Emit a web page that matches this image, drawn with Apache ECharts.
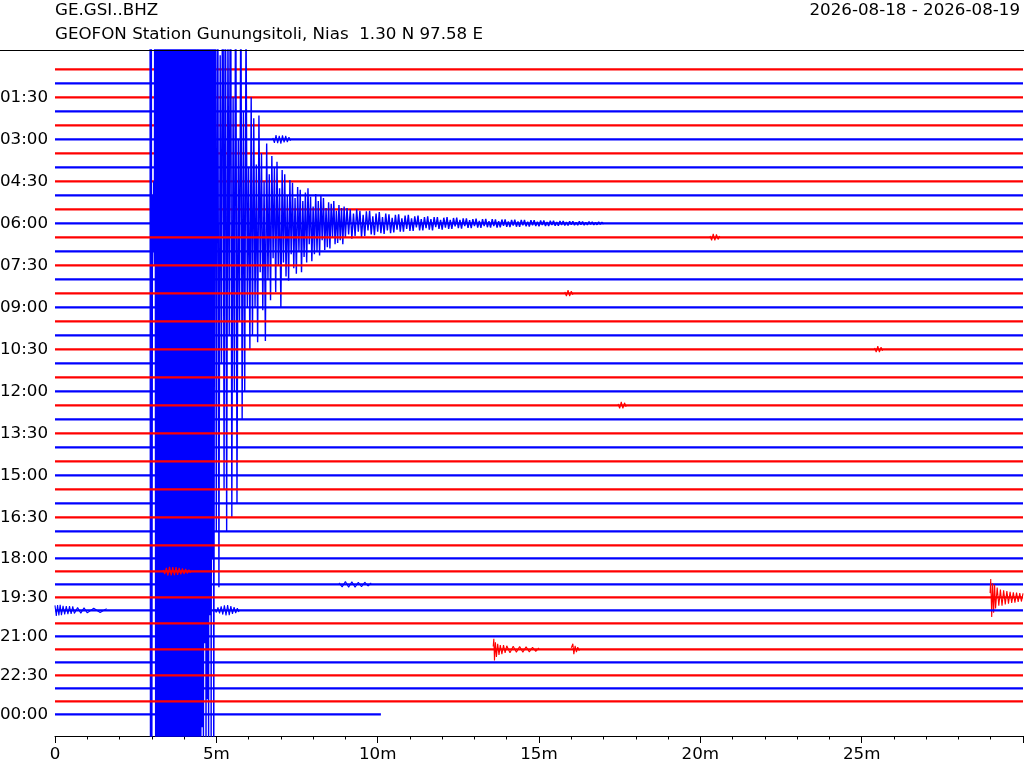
<!DOCTYPE html>
<html>
<head>
<meta charset="utf-8">
<script src="https://cdn.jsdelivr.net/npm/echarts@6/dist/echarts.min.js"></script>
<style>html,body{margin:0;padding:0;background:#fff}#c{width:1024px;height:768px}</style>
</head>
<body>
<div id="c"></div>
<script>
// ---------- texts ----------
const titleLeft = 'GE.GSI..BHZ';
const titleSub = 'GEOFON Station Gunungsitoli, Nias  1.30 N 97.58 E';
const titleRight = '2026-08-18 - 2026-08-19';

// ---------- rows / ticks ----------
const traceCount = 48;          // 30-minute lines
const traceMinutes = 30;
const lastTraceEnd = 10.1;      // data of the last line ends here (min)
const labelRows = [2, 5, 8, 11, 14, 17, 20, 23, 26, 29, 32, 35, 38, 41, 44, 47];
const labelTexts = ['01:30', '03:00', '04:30', '06:00', '07:30', '09:00', '10:30', '12:00',
  '13:30', '15:00', '16:30', '18:00', '19:30', '21:00', '22:30', '00:00'];
const xTicks = [0, 5, 10, 15, 20, 25];

// ---------- big earthquake (row 11); amplitudes in line spacings, + = up ----------
const quakeRow = 11;
const quakeStart = 2.94, quakeStep = 0.02;
const quakeMain = [
  40, -40, 40, -40, 2, -2, 3, -3, 40, -40,
  40, -40, 40, -40, 40, -40, 40, -40, 40, -40,
  40, -40, 40, -40, 40, -40, 40, -40, 40, -40,
  40, -40, 40, -40, 40, -40, 40, -40, 40, -40,
  40, -40, 40, -40, 40, -40, 40, -40, 40, -40,
  40, -40, 40, -40, 40, -40, 40, -40, 40, -40,
  40, -40, 40, -40, 40, -40, 40, -40, 40, -40,
  40, -40, 40, -40, 40, -40, 40, -40, 40, -40,
  40, -36, 40, -40, 38, -30, 40, -38, 40, -34,
  40, -40, 35, -28, 40, -37, 30, -24, 38, -40
];
const midStart = 4.96, midStep = 0.04;
const quakeMid = [
  30, -22, 26, -26, 12, -10, 28, -19, 24, -22,
  14, -8, 26, -21, 9, -12, 22, -20, 6, -7,
  18, -14, 8, -12, 15, -6, 4, -9, 9, -8
];
const codaStart = 6.16, codaStep = 0.04;
const codaNear = [
  7.5, -6.0, 4.2, -8.5, 7.7, -3.5, 5.0, -6.2, 3.0, -8.4,
  5.7, -4.0, 3.5, -5.5, 4.8, -2.5, 4.0, -4.9, 4.4, -3.0,
  2.5, -6.0, 3.8, -2.8, 3.5, -3.8, 2.0, -4.1, 3.1, -2.2,
  2.9, -3.2, 1.8, -3.6, 2.6, -2.0, 2.4, -3.5, 1.6, -2.4,
  2.2, -2.8, 2.5, -1.5, 1.9, -2.7, 1.2, -2.2, 2.1, -2.0,
  1.6, -2.3, 2.0, -1.2, 1.8, -1.9, 1.1, -1.7, 1.5, -1.8,
  1.4, -1.0, 1.6, -1.5, 0.9, -1.4, 1.3, -1.2, 1.1, -1.5,
  1.2, -1.0
];
const tailStart = 9.05, tailStep = 0.05;
const codaFar = [
  1.1, -0.8, 1.0, -1.1, 0.7, -0.9, 1.0, -0.6, 0.9, -1.0,
  0.6, -0.9, 0.85, -0.5, 0.9, -0.8, 0.5, -0.85, 0.7, -0.6,
  0.8, -0.7, 0.45, -0.75, 0.7, -0.5, 0.65, -0.7, 0.4, -0.65,
  0.6, -0.45, 0.65, -0.6, 0.35, -0.6, 0.55, -0.4, 0.6, -0.55,
  0.35, -0.55, 0.5, -0.3, 0.55, -0.5, 0.3, -0.5, 0.45, -0.35,
  0.5, -0.45, 0.3, -0.5, 0.45, -0.28, 0.45, -0.4, 0.25, -0.45,
  0.4, -0.3, 0.45, -0.4, 0.25, -0.4, 0.38, -0.22, 0.4, -0.35,
  0.25, -0.38, 0.35, -0.2, 0.36, -0.33, 0.22, -0.35, 0.3, -0.2,
  0.33, -0.3, 0.18, -0.32, 0.3, -0.2, 0.32, -0.28, 0.16, -0.3,
  0.3, -0.2, 0.28, -0.3, 0.15, -0.28, 0.27, -0.18, 0.28, -0.25,
  0.14, -0.27, 0.25, -0.16, 0.26, -0.24, 0.13, -0.25, 0.24, -0.15,
  0.24, -0.22, 0.12, -0.23, 0.22, -0.14, 0.22, -0.2, 0.11, -0.21,
  0.2, -0.13, 0.2, -0.19, 0.1, -0.2, 0.18, -0.12, 0.19, -0.17,
  0.1, -0.18, 0.17, -0.11, 0.17, -0.16, 0.09, -0.16, 0.15, -0.1,
  0.15, -0.14, 0.08, -0.14, 0.14, -0.09, 0.13, -0.13, 0.07, -0.12,
  0.12, -0.08, 0.11, -0.11, 0.06, -0.1, 0.1, -0.07, 0.09, -0.06
];

// ---------- smaller events: [minute, amplitude] ----------
const burstRow5 = [[6.75, 0.1], [6.8, -0.25], [6.85, 0.3], [6.9, -0.28], [6.95, 0.25], [7.0, -0.3],
  [7.05, 0.28], [7.1, -0.22], [7.15, 0.25], [7.2, -0.2], [7.25, 0.15], [7.3, -0.1]];
const burstRow12 = [[20.3, 0.1], [20.35, -0.22], [20.4, 0.25], [20.45, -0.22], [20.5, 0.2], [20.55, -0.15], [20.6, 0.1]];
const burstRow16 = [[15.8, 0.1], [15.85, -0.2], [15.9, 0.22], [15.95, -0.2], [16.0, 0.15], [16.05, -0.1]];
const burstRow20 = [[25.4, 0.1], [25.45, -0.2], [25.5, 0.22], [25.55, -0.2], [25.6, 0.15], [25.65, -0.1]];
const burstRow24 = [[17.45, 0.1], [17.5, -0.22], [17.55, 0.25], [17.6, -0.22], [17.65, 0.18], [17.7, -0.1]];
const burstRow36 = [[3.35, 0.1], [3.4, -0.2], [3.45, 0.25], [3.5, -0.3], [3.55, 0.32], [3.6, -0.3],
  [3.65, 0.3], [3.7, -0.28], [3.75, 0.3], [3.8, -0.25], [3.85, 0.25], [3.9, -0.22], [3.95, 0.2],
  [4.0, -0.2], [4.05, 0.17], [4.1, -0.15], [4.15, 0.12], [4.2, -0.1]];
const burstRow37 = [[8.8, 0.1], [8.9, -0.18], [9.0, 0.2], [9.1, -0.2], [9.2, 0.18], [9.3, -0.2],
  [9.4, 0.15], [9.5, -0.17], [9.6, 0.15], [9.7, -0.12], [9.8, 0.1]];
const quakeRow38 = [[28.98, 0.3], [29.0, 1.3], [29.03, -1.4], [29.06, 1.0], [29.09, -1.1], [29.12, 0.9],
  [29.15, -0.8], [29.2, 0.7], [29.25, -0.6], [29.3, 0.55], [29.35, -0.6], [29.4, 0.5], [29.45, -0.5],
  [29.5, 0.45], [29.55, -0.45], [29.6, 0.4], [29.65, -0.4], [29.7, 0.35], [29.75, -0.38], [29.8, 0.33],
  [29.85, -0.32], [29.9, 0.3], [29.95, -0.3], [30.0, 0.28]];
const burstRow39a = [[0, 0.35], [0.04, -0.4], [0.08, 0.38], [0.12, -0.36], [0.16, 0.4], [0.2, -0.35],
  [0.25, 0.32], [0.3, -0.3], [0.35, 0.3], [0.4, -0.28], [0.45, 0.3], [0.5, -0.25], [0.55, 0.28],
  [0.6, -0.22], [0.7, 0.2], [0.8, -0.2], [0.9, 0.18], [1.0, -0.18], [1.2, 0.15], [1.4, -0.15], [1.6, 0.12]];
const burstRow39b = [[4.95, 0.1], [5.0, -0.15], [5.05, 0.2], [5.1, -0.22], [5.15, 0.28], [5.2, -0.3],
  [5.25, 0.35], [5.3, -0.36], [5.35, 0.38], [5.4, -0.35], [5.45, 0.3], [5.5, -0.25], [5.55, 0.22],
  [5.6, -0.2], [5.65, 0.15], [5.7, -0.12]];
const quakeRow42 = [[13.58, 0.2], [13.6, 0.75], [13.62, -0.8], [13.65, 0.5], [13.68, -0.55], [13.72, 0.4],
  [13.76, -0.4], [13.8, 0.3], [13.85, -0.35], [13.9, 0.3], [13.95, -0.25], [14.0, 0.25], [14.1, -0.25],
  [14.2, 0.22], [14.3, -0.2], [14.4, 0.2], [14.5, -0.2], [14.6, 0.18], [14.7, -0.18], [14.8, 0.15],
  [14.9, -0.15], [15.0, 0.1]];
const burstRow42 = [[16.0, 0.1], [16.05, 0.4], [16.08, -0.35], [16.12, 0.25], [16.16, -0.2], [16.2, 0.15], [16.25, -0.1]];

// ---------- layout helpers ----------
const colors = ['#ff0000', '#0000ff'];
const FONT = '"DejaVu Sans", sans-serif';
// the lower lines of the reference are drawn a little closer together
function rowOffset(k) { return k <= 34 ? k : 34 + (k - 34) * 13 / 14; }
function sampled(start, step, vals) { return vals.map((a, i) => [start + i * step, a]); }

const events = {
  5: [burstRow5], 12: [burstRow12], 16: [burstRow16], 20: [burstRow20], 24: [burstRow24],
  36: [burstRow36], 37: [burstRow37], 38: [quakeRow38], 39: [burstRow39a, burstRow39b],
  42: [quakeRow42, burstRow42]
};
events[quakeRow] = [
  sampled(quakeStart, quakeStep, quakeMain)
    .concat(sampled(midStart, midStep, quakeMid))
    .concat(sampled(codaStart, codaStep, codaNear))
    .concat(sampled(tailStart, tailStep, codaFar))
];

const series = [];
for (let k = 0; k < traceCount; k++) {
  const off = rowOffset(k);
  const col = colors[k % 2];
  const end = k === traceCount - 1 ? lastTraceEnd : traceMinutes;
  series.push({
    type: 'line', data: [[0, off], [end, off]], symbol: 'none', silent: true,
    lineStyle: { color: col, width: 2.2 }, clip: true
  });
  (events[k] || []).forEach(ev => {
    series.push({
      type: 'line', data: ev.map(p => [p[0], off - p[1]]), symbol: 'none', silent: true,
      lineStyle: { color: col, width: k === quakeRow ? 1.4 : 1.1, join: 'bevel' }, clip: true
    });
  });
}

const chart = echarts.init(document.getElementById('c'), null, { renderer: 'canvas' });
chart.setOption({
  animation: false,
  backgroundColor: '#fff',
  grid: { left: 55, right: 1, top: 50, bottom: 32, containLabel: false, outerBoundsMode: 'none' },
  xAxis: {
    type: 'value', min: 0, max: traceMinutes, interval: 5,
    axisLine: { show: true, onZero: false, lineStyle: { color: '#000', width: 1 } },
    axisTick: { show: true, length: 7, lineStyle: { color: '#000' } },
    minorTick: { show: true, splitNumber: 5, length: 3.5, lineStyle: { color: '#000' } },
    splitLine: { show: false },
    axisLabel: {
      color: '#000', fontSize: 16.7, fontFamily: FONT, margin: 10,
      formatter: v => (xTicks.indexOf(v) < 0 ? '' : (v === 0 ? '0' : v + 'm'))
    }
  },
  yAxis: {
    type: 'value', inverse: true, min: -1.38, max: 47.62,
    axisLine: { show: false }, axisTick: { show: false }, splitLine: { show: false },
    axisLabel: {
      color: '#000', fontSize: 16.7, fontFamily: FONT, margin: 7,
      customValues: labelRows.map(rowOffset),
      formatter: v => {
        for (let i = 0; i < labelRows.length; i++) {
          if (Math.abs(rowOffset(labelRows[i]) - v) < 1e-6) return labelTexts[i];
        }
        return '';
      }
    }
  },
  graphic: [
    { type: 'line', shape: { x1: 0, y1: 50.5, x2: 1024, y2: 50.5 }, style: { stroke: '#000', lineWidth: 1 }, z: 100 },
    { type: 'text', style: { text: titleLeft, x: 55, y: 10.5, fill: '#000', font: '16.7px ' + FONT, verticalAlign: 'middle' } },
    { type: 'text', style: { text: titleSub, x: 55, y: 34.5, fill: '#000', font: '16.7px ' + FONT, verticalAlign: 'middle' } },
    { type: 'text', style: { text: titleRight, x: 1020, y: 10.5, fill: '#000', font: '16.7px ' + FONT, align: 'right', verticalAlign: 'middle' } }
  ],
  series: series
});
</script>
</body>
</html>
